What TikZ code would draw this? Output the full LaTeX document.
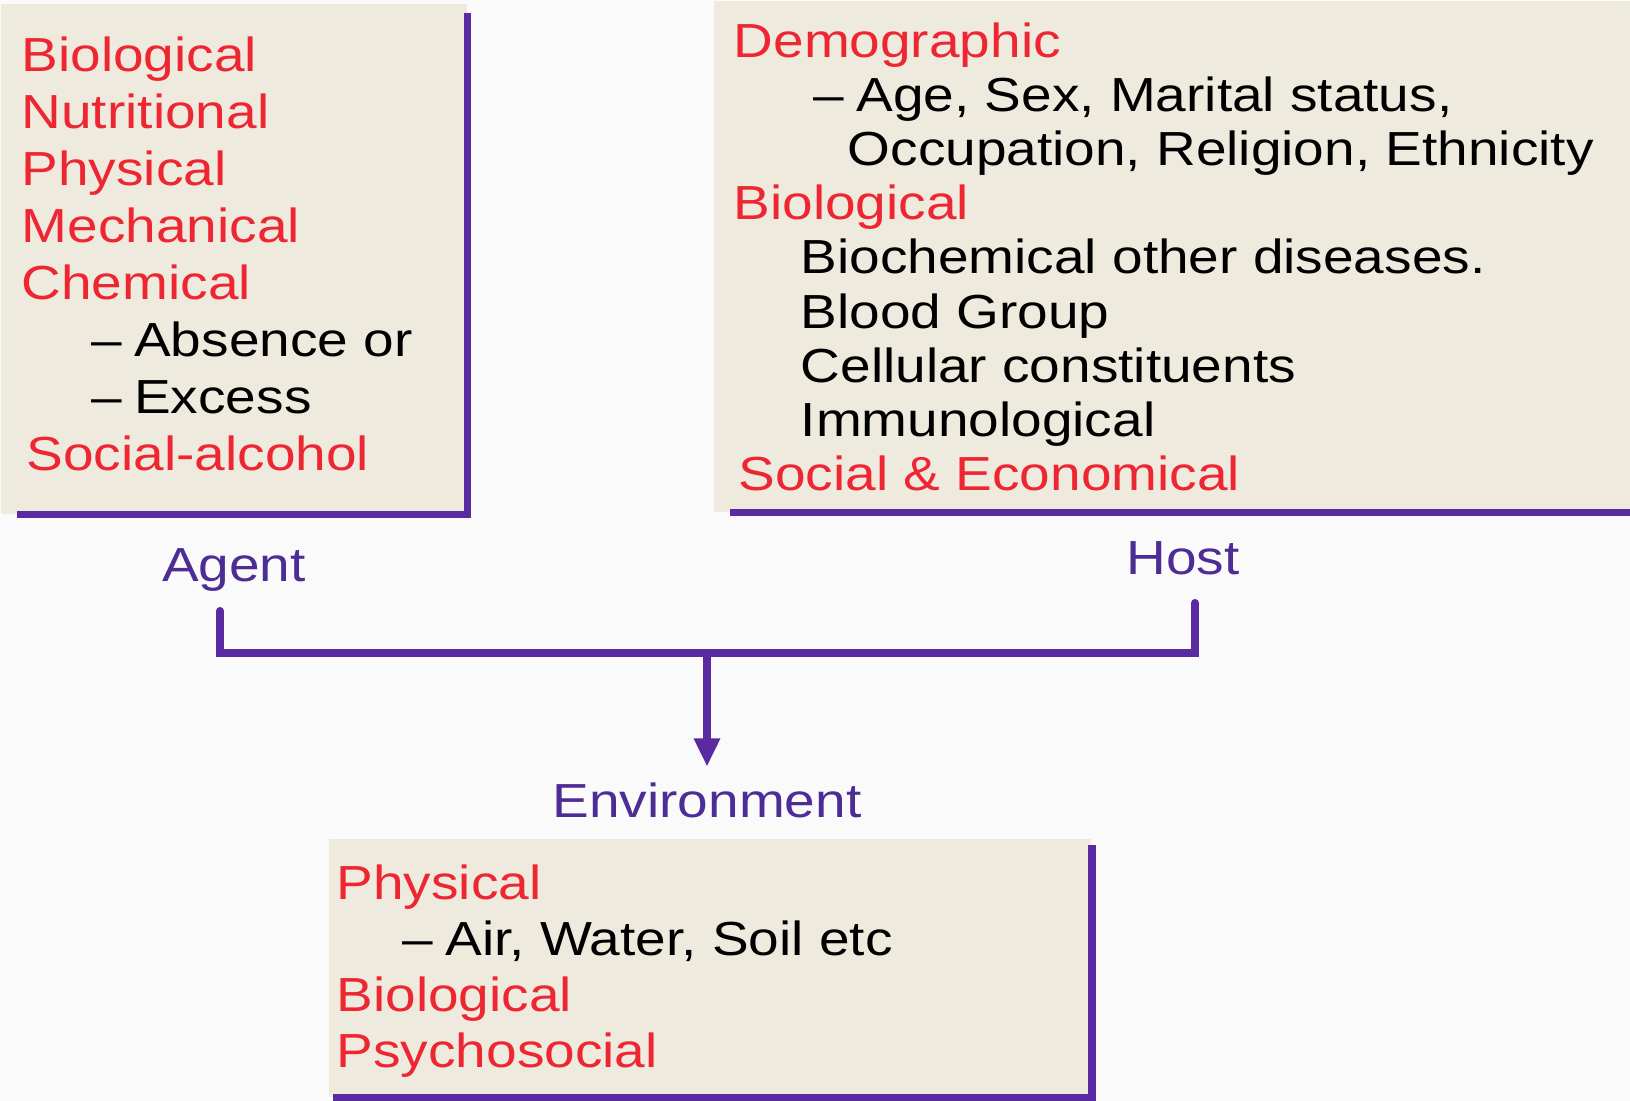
\documentclass[tikz,border=0pt]{standalone}
\usepackage{fontspec}
\setmainfont[FakeStretch=1.15]{Liberation Sans}
\usetikzlibrary{arrows.meta,positioning}

\definecolor{paper}{RGB}{250,250,250}
\definecolor{boxbg}{RGB}{238,234,222}
\definecolor{edge}{RGB}{90,42,160}
\definecolor{headred}{RGB}{238,38,50}
\definecolor{labpurple}{RGB}{78,44,150}

\newcommand{\head}[1]{\textcolor{headred}{#1}}
\newcommand{\dashitem}{--\hspace{0.12cm}}

\begin{document}
\begin{tikzpicture}[x=0.01cm,y=-0.01cm,
      boxfill/.style={fill=boxbg,draw=none,inner sep=0pt,anchor=north west},
      edgeline/.style={draw=edge,line width=2.1pt},
      link/.style={draw=edge,line width=2.3pt,line cap=round},
      factors/.style={inner sep=0pt,anchor=north west,align=left,
        font=\fontsize{13.6pt}{#1}\selectfont},
      lbl/.style={text=labpurple,inner sep=0pt,anchor=base,
        font=\fontsize{13.6pt}{16pt}\selectfont}]
    \useasboundingbox (0,0) rectangle (1630,1101);
    \fill[paper] (0,0) rectangle (1630,1101);

    % boxes
    \node[boxfill,minimum width=4.66cm,minimum height=5.10cm] (agentbox) at (0,3) {};
    \node[boxfill,minimum width=9.17cm,minimum height=5.11cm] (hostbox) at (713,0) {};
    \node[boxfill,minimum width=7.62cm,minimum height=2.58cm] (envbox) at (328,838) {};

    \draw[edgeline] ([yshift=-0.1cm]agentbox.north east) -- (agentbox.south east)
      -- ([xshift=0.17cm]agentbox.south west);
    \draw[edgeline] ([xshift=0.17cm]hostbox.south west) -- (hostbox.south east);
    \draw[edgeline] ([yshift=-0.07cm]envbox.north east) -- (envbox.south east)
      -- ([xshift=0.05cm]envbox.south west);

    % factor lists
    \node[factors=16.2pt] (agenttxt) at (21,36) {%
      \head{Biological}\\
      \head{Nutritional}\\
      \head{Physical}\\
      \head{Mechanical}\\
      \head{Chemical}\\
      \hspace*{0.7cm}\dashitem Absence or\\
      \hspace*{0.7cm}\dashitem Excess\\
      \hspace*{0.05cm}\head{Social-alcohol}};
    \node[factors=15.4pt] (hosttxt) at (733,22) {%
      \head{Demographic}\\
      \hspace*{0.8cm}\dashitem Age, Sex, Marital status,\\
      \hspace*{1.14cm}Occupation, Religion, Ethnicity\\
      \head{Biological}\\
      \hspace*{0.67cm}Biochemical other diseases.\\
      \hspace*{0.67cm}Blood Group\\
      \hspace*{0.67cm}Cellular constituents\\
      \hspace*{0.67cm}Immunological\\
      \hspace*{0.05cm}\head{Social \& Economical}};
    \node[factors=15.9pt] (envtxt) at (336,864) {%
      \head{Physical}\\
      \hspace*{0.66cm}\dashitem Air, Water, Soil etc\\
      \head{Biological}\\
      \head{Psychosocial}};

    % labels
    \node[lbl] (agentlbl) at (234,582) {Agent};
    \node[lbl] (hostlbl) at (1183,575) {Host};
    \node[lbl] (envlbl) at (707,818) {Environment};

    % connectors
    \coordinate (aend) at (220,611);
    \coordinate (hend) at (1195,603);
    \coordinate (join) at (707,653);
    \draw[link] (aend) |- (join) -| (hend);
    \draw[link,-{Triangle[length=8pt,width=7pt]},shorten >=0.16cm] (join) -- (envlbl.north);
\end{tikzpicture}
\end{document}
